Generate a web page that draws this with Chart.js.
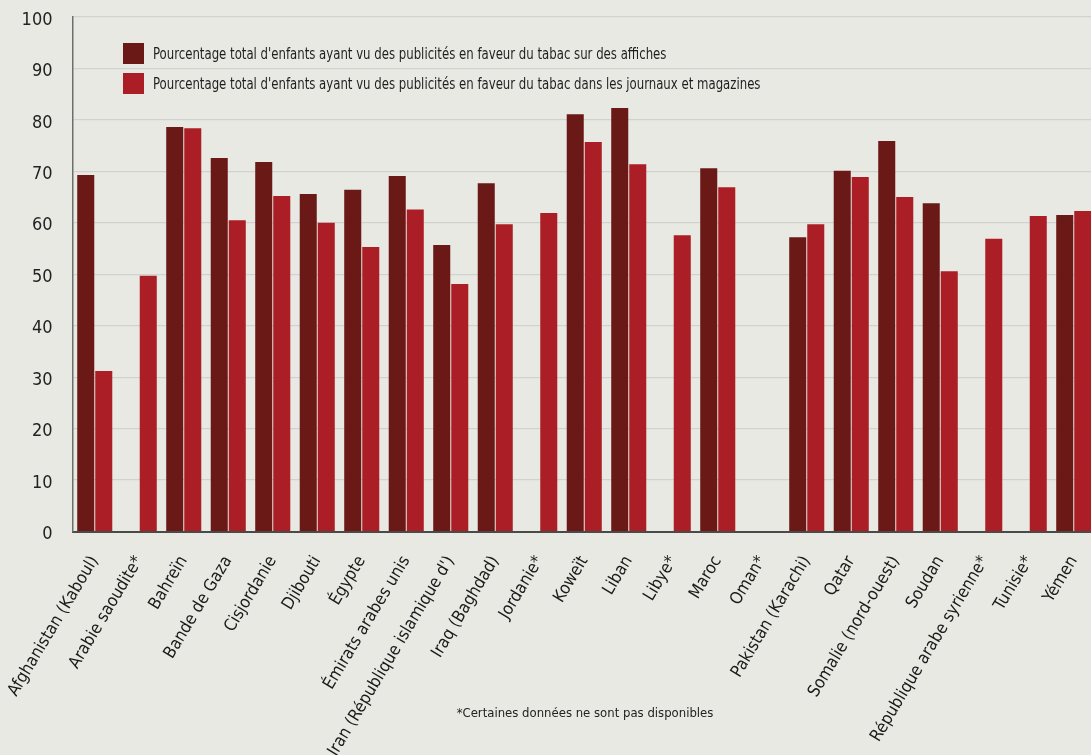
<!DOCTYPE html>
<html>
<head>
<meta charset="utf-8">
<script src="https://cdn.jsdelivr.net/npm/chart.js@4/dist/chart.umd.min.js"></script>
<style>
  html, body { margin:0; padding:0; background:#e9e9e4; overflow:hidden; }
  #wrap { position:relative; width:1091px; height:755px; overflow:hidden; background:#e9e9e4; }
  canvas { position:absolute; left:0; top:0; }
  #legend { position:absolute; left:123px; top:38px; font-family:"DejaVu Sans Condensed",sans-serif; font-size:16px; color:#1e1e1e; }
  #legend .item { display:flex; align-items:center; height:30px; }
  #legend .box { width:21px; height:21px; margin-right:9px; flex:none; }
  #legend .txt { display:inline-block; transform:scaleX(0.815); transform-origin:left center; white-space:nowrap; }
  #note { position:absolute; left:0; width:1170px; top:705px; text-align:center; font-family:"DejaVu Sans Condensed",sans-serif; font-size:13px; color:#222; }
</style>
</head>
<body>
<div id="wrap">
  <canvas id="c" width="1096" height="755"></canvas>
  <div id="legend"></div>
  <div id="note">*Certaines données ne sont pas disponibles</div>
</div>
<script>
const categories = ["Afghanistan (Kaboul)","Arabie saoudite*","Bahreïn","Bande de Gaza","Cisjordanie","Djibouti","Égypte","Émirats arabes unis","Iran (République islamique d')","Iraq (Baghdad)","Jordanie*","Koweït","Liban","Libye*","Maroc","Oman*","Pakistan (Karachi)","Qatar","Somalie (nord-ouest)","Soudan","République arabe syrienne*","Tunisie*","Yémen"];
const seriesNames = ["Pourcentage total d'enfants ayant vu des publicités en faveur du tabac sur des affiches","Pourcentage total d'enfants ayant vu des publicités en faveur du tabac dans les journaux et magazines"];
const affiches = [69.3, null, 78.6, 72.6, 71.8, 65.6, 66.4, 69.1, 55.7, 67.7, null, 81.1, 82.3, null, 70.6, null, 57.2, 70.1, 75.9, 63.8, null, null, 61.5];
const journaux = [31.2, 49.7, 78.4, 60.5, 65.2, 60.0, 55.3, 62.6, 48.1, 59.7, 61.9, 75.7, 71.4, 57.6, 66.9, null, 59.7, 68.9, 65.0, 50.6, 56.9, 61.3, 62.3];
const yTicks = [0,10,20,30,40,50,60,70,80,90,100];
const colors = ["#6a1916", "#ac1e25"];

const FONT = "'DejaVu Sans Condensed',sans-serif";

const chart = new Chart(document.getElementById('c'), {
  type: 'bar',
  data: {
    labels: categories,
    datasets: [
      { label: seriesNames[0], data: affiches, backgroundColor: colors[0], borderWidth: 0, categoryPercentage: 0.81, barPercentage: 0.945 },
      { label: seriesNames[1], data: journaux, backgroundColor: colors[1], borderWidth: 0, categoryPercentage: 0.81, barPercentage: 0.945 }
    ]
  },
  options: {
    responsive: false,
    animation: false,
    devicePixelRatio: 1,
    layout: { padding: { top: 17, left: 0, right: 0, bottom: 0 } },
    plugins: { legend: { display: false }, tooltip: { enabled: false } },
    scales: {
      x: {
        grid: { display: false, drawTicks: false },
        border: { display: true, color: '#4a4a48', width: 2 },
        ticks: {
          autoSkip: false, maxRotation: 59, minRotation: 59, padding: 21,
          color: '#1a1a1a', font: { family: FONT, size: 17 }
        },
        afterFit: (s) => { s.height = 755 - 17 - 514.5; s.paddingLeft = 0; s.paddingRight = 0; }
      },
      y: {
        min: 0, max: 100,
        afterBuildTicks: (s) => { s.ticks = yTicks.map(v => ({ value: v })); },
        grid: { color: '#d1d1cf', lineWidth: 1.2, drawTicks: false },
        border: { display: true, color: '#6e6e6c', width: 1.5 },
        ticks: { padding: 20, labelOffset: 3, color: '#222', font: { family: FONT, size: 18 } },
        afterFit: (s) => { s.width = 72.5; s.paddingTop = 0; s.paddingBottom = 0; }
      }
    }
  }
});

const leg = document.getElementById('legend');
seriesNames.forEach((n, i) => {
  const it = document.createElement('div'); it.className = 'item';
  const b = document.createElement('span'); b.className = 'box'; b.style.background = colors[i];
  const t = document.createElement('span'); t.className = 'txt'; t.textContent = n;
  it.appendChild(b); it.appendChild(t); leg.appendChild(it);
});
</script>
</body>
</html>
